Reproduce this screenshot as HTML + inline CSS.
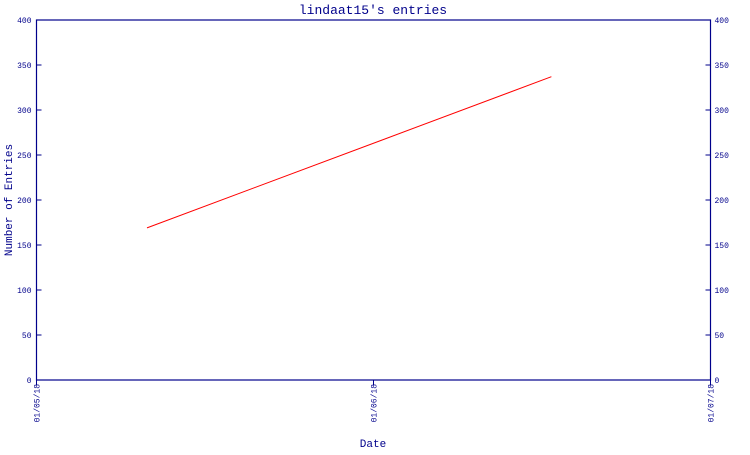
<!DOCTYPE html>
<html><head><meta charset="utf-8"><style>
body{margin:0;background:#fff}
text{font-family:"Liberation Mono","DejaVu Sans Mono",monospace;fill:#00008b}
</style></head><body>
<svg width="750" height="450" xmlns="http://www.w3.org/2000/svg">
<text x="373" y="14" font-size="13" text-anchor="middle">lindaat15's entries</text>
<text x="373" y="447" font-size="11" text-anchor="middle">Date</text>
<text transform="translate(12,200) rotate(-90)" font-size="11" text-anchor="middle">Number of Entries</text>
<g id="axes"></g>
<g id="marks"></g>
</svg>
<script>
const yTicks=[0,50,100,150,200,250,300,350,400];
const xTickDays=[0,30.5,61];
const xTickLabels=["01/05/18","01/06/18","01/07/18"];
const seriesDays=[10,46.6];
const seriesValues=[169,337];
const L=36.5,R=710.5,T=20,B=380;
const xS=d=>L+d/61*(R-L);
const yS=v=>B-v/400*(B-T);
const ns="http://www.w3.org/2000/svg";
const ax=document.getElementById('axes'),mk=document.getElementById('marks');
function mkEl(t,a,p){const e=document.createElementNS(ns,t);for(const k in a)e.setAttribute(k,a[k]);p.appendChild(e);return e;}
const frame=mkEl('rect',{x:L,y:T,width:R-L,height:B-T,fill:'none',stroke:'#00008b','stroke-width':1.2},ax);


yTicks.forEach(v=>{const y=yS(v);
 const t1=mkEl('line',{x1:L,x2:L+5,y1:y,y2:y,stroke:'#00008b'},ax);
 
 
 const t2=mkEl('line',{x1:R-5,x2:R,y1:y,y2:y,stroke:'#00008b'},ax);
 
 
 const l1=mkEl('text',{x:L-5,y:y+3,'font-size':8,'text-anchor':'end'},ax);l1.textContent=v;
 
 
 const l2=mkEl('text',{x:R+4,y:y+3,'font-size':8},ax);l2.textContent=v;
 
 
});
xTickDays.forEach((d,i)=>{const x=xS(d);
 const t=mkEl('line',{x1:x,x2:x,y1:B,y2:B+5,stroke:'#00008b'},ax);
 
 
 const l=mkEl('text',{transform:`translate(${x+3},${B+4}) rotate(-90)`,'font-size':8,'text-anchor':'end'},ax);l.textContent=xTickLabels[i];
 
 
});
const pts=seriesDays.map((d,i)=>xS(d)+','+yS(seriesValues[i])).join(' ');
const line=mkEl('polyline',{points:pts,fill:'none',stroke:'#ff0000','stroke-width':1},mk);


</script>
</body></html>
